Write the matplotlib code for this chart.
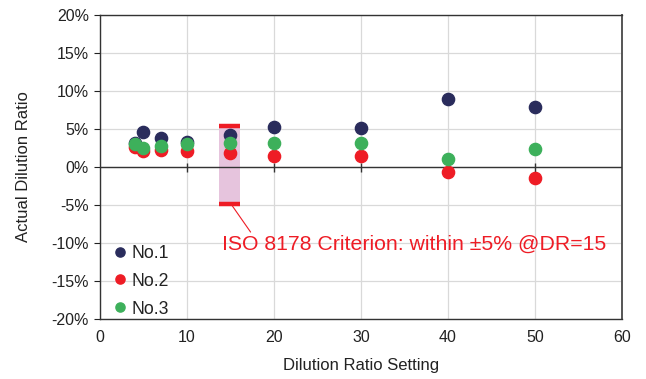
import matplotlib
matplotlib.use("Agg")
import matplotlib.pyplot as plt
from matplotlib.ticker import FuncFormatter

plt.rcParams["font.family"] = ["Liberation Sans", "DejaVu Sans"]

# dilution ratio settings
dr_setting = [4, 5, 7, 10, 15, 20, 30, 40, 50]

# actual dilution ratio error (%) for each unit
no1 = [3.1, 4.55, 3.8, 3.25, 4.2, 5.3, 5.1, 9.0, 7.9]
no2 = [2.6, 2.1, 2.2, 2.15, 1.9, 1.4, 1.4, -0.7, -1.4]
no3 = [3.0, 2.5, 2.8, 3.0, 3.1, 3.1, 3.1, 1.05, 2.4]

# ISO 8178 criterion band at DR=15
band_x = 14.9
band_w = 2.4
band_top = 5.4
band_bottom = -4.85

navy = "#2a2c5c"
red = "#ee1c25"
green = "#3db05b"
pink = "#e6c4dd"

fig = plt.figure(figsize=(6.46, 3.79), dpi=100)
ax = fig.add_axes([0.1548, 0.1583, 0.808, 0.8021])

# criterion band with red caps
ax.bar(band_x, band_top - band_bottom, bottom=band_bottom, width=band_w,
       color=pink, zorder=2)
ax.hlines([band_top, band_bottom], band_x - band_w / 2, band_x + band_w / 2,
          color=red, linewidth=3.2, zorder=3)

ax.plot(dr_setting, no1, "o", color=navy, markersize=8.8, label="No.1", zorder=4)
ax.plot(dr_setting, no2, "o", color=red, markersize=8.8, label="No.2", zorder=5)
ax.plot(dr_setting, no3, "o", color=green, markersize=8.8, label="No.3", zorder=6)

ax.set_xlim(0, 60)
ax.set_ylim(-20, 20)
ax.set_xticks(range(0, 61, 10))
ax.set_yticks(range(-20, 21, 5))
ax.yaxis.set_major_formatter(FuncFormatter(lambda v, p: f"{v:.0f}%"))

ax.grid(True, color="#d9d9d9", linewidth=0.9, zorder=0)
ax.set_axisbelow(True)

# zero line with small tick marks
ax.axhline(0, color="#333333", linewidth=1.0, zorder=3)
ax.vlines(ax.get_xticks()[1:-1], -0.7, 0.5, color="#333333", linewidth=1.0, zorder=3)

ax.tick_params(axis="x", length=0, pad=8, labelsize=11.5, colors="#222222")
ax.tick_params(axis="y", direction="out", length=4, width=0.8, pad=4,
               labelsize=11.5, colors="#222222")
for s in ax.spines.values():
    s.set_color("#333333")
    s.set_linewidth(1.0)
ax.spines["right"].set_color("#555555")
ax.spines["right"].set_linewidth(1.4)

ax.set_xlabel("Dilution Ratio Setting", fontsize=12, color="#222222", labelpad=9)
ax.set_ylabel("Actual Dilution Ratio", fontsize=12, color="#222222", labelpad=15)

ax.annotate("ISO 8178 Criterion: within \u00b15% @DR=15",
            xy=(15.2, -5.1), xytext=(14.0, -10.9),
            color=red, fontsize=15.3, ha="left", va="baseline",
            arrowprops=dict(arrowstyle="-", color=red, linewidth=0.8,
                            shrinkA=0, shrinkB=0, relpos=(0.08, 1.0)),
            zorder=7)

leg = ax.legend(loc="lower left", bbox_to_anchor=(0.0, -0.036), frameon=False,
                fontsize=12.7, markerscale=0.75, handlelength=0.9,
                handletextpad=0.2, labelspacing=0.62, borderaxespad=0.3)
for t in leg.get_texts():
    t.set_color("#222222")

fig.savefig("out.png", dpi=100)
